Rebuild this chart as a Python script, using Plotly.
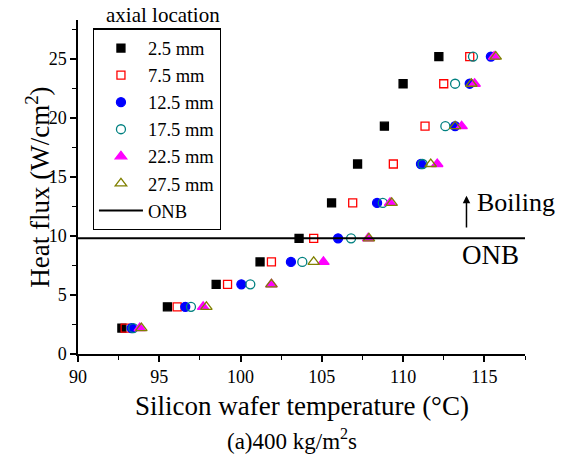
import plotly.graph_objects as go

# ---- data ----
heat_flux = [2.2, 4.0, 5.9, 7.8, 9.8, 12.8, 16.1, 19.3, 22.9, 25.2]
series_names = ["2.5 mm", "7.5 mm", "12.5 mm", "17.5 mm", "22.5 mm", "27.5 mm"]
t_2_5 = [92.7, 95.5, 98.5, 101.2, 103.6, 105.6, 107.2, 108.85, 110.0, 112.2]
t_7_5 = [92.9, 96.1, 99.2, 101.9, 104.5, 106.9, 109.4, 111.35, 112.5, 114.1]
t_12_5 = [93.3, 96.6, 100.05, 103.1, 106.0, 108.4, 111.1, 113.2, 114.1, 115.4]
t_17_5 = [93.4, 96.95, 100.6, 103.8, 106.8, 108.75, 111.2, 112.6, 113.2, 114.3]
t_22_5 = [93.8, 97.7, 101.9, 105.1, 107.85, 109.2, 112.1, 113.6, 114.4, 115.6]
t_27_5 = [93.9, 97.9, 101.9, 104.5, 107.9, 109.3, 111.7, 113.2, 114.2, 115.7]
onb_flux = 9.8
x_range = [90, 117.5]
y_range = [0, 28.3]

temps = [t_2_5, t_7_5, t_12_5, t_17_5, t_22_5, t_27_5]
symbols = ["square", "square-open", "circle", "circle-open", "triangle-up", "triangle-up-open"]
colors = ["#000000", "#ff0000", "#0000ff", "#008080", "#ff00ff", "#808000"]
sizes = [8, 8, 9, 9, 10, 10]

FONT = "Liberation Serif, Times New Roman, serif"

fig = go.Figure()
for name, xs, sym, col, sz in zip(series_names, temps, symbols, colors, sizes):
    fig.add_trace(go.Scatter(
        x=xs, y=heat_flux, mode="markers", name=name,
        marker=dict(symbol=sym, color=col, size=sz, line=dict(color=col, width=1.3)),
        cliponaxis=False,
    ))

fig.add_trace(go.Scatter(
    x=x_range, y=[onb_flux, onb_flux], mode="lines", name="ONB",
    line=dict(color="black", width=2),
))

axis_common = dict(
    showline=True, linecolor="black", linewidth=1.5,
    ticks="outside", ticklen=6, tickwidth=1.5, tickcolor="black",
    showgrid=False, zeroline=False,
    tickfont=dict(family=FONT, size=18, color="black"),
    minor=dict(ticks="outside", ticklen=4, tickwidth=1.2, tickcolor="black", dtick=2.5),
    mirror=False,
)

fig.update_xaxes(range=x_range, dtick=5, tick0=90, **axis_common)
fig.update_yaxes(range=y_range, dtick=5, tick0=0, **axis_common)

annotations = [
    dict(text="Silicon wafer temperature (°C)", xref="paper", yref="paper",
         x=0.5, y=-0.155, xanchor="center", yanchor="middle", showarrow=False,
         font=dict(family=FONT, size=27, color="black")),
    dict(text="(a)400 kg/m<sup>2</sup>s", xref="paper", yref="paper",
         x=0.478, y=-0.255, xanchor="center", yanchor="middle", showarrow=False,
         font=dict(family=FONT, size=23, color="black")),
    dict(text="Heat flux (W/cm<sup>2</sup>)", xref="paper", yref="paper",
         x=-0.09, y=0.5, xanchor="center", yanchor="middle", showarrow=False,
         textangle=-90, font=dict(family=FONT, size=27, color="black")),
    dict(text="axial location", xref="paper", yref="paper",
         x=0.19, y=1.015, xanchor="center", yanchor="middle", showarrow=False,
         font=dict(family=FONT, size=21, color="black")),
    dict(text="Boiling", xref="x", yref="y", x=114.4, y=12.8,
         xanchor="left", yanchor="middle", showarrow=False,
         font=dict(family=FONT, size=26, color="black")),
    dict(text="ONB", xref="x", yref="y", x=115.35, y=8.4,
         xanchor="center", yanchor="middle", showarrow=False,
         font=dict(family=FONT, size=27, color="black")),
    dict(text="", xref="x", yref="y", axref="x", ayref="y",
         x=113.9, y=13.4, ax=113.9, ay=10.6,
         showarrow=True, arrowhead=2, arrowsize=1, arrowwidth=1.5, arrowcolor="black"),
]

fig.update_layout(
    width=566, height=461,
    margin=dict(l=78, r=41, t=20, b=107),
    paper_bgcolor="white", plot_bgcolor="white",
    font=dict(family=FONT, color="black"),
    showlegend=True,
    legend=dict(
        x=0.033, y=0.975, xanchor="left", yanchor="top",
        bgcolor="white", bordercolor="black", borderwidth=1.2,
        font=dict(family=FONT, size=18.5, color="black"),
        itemwidth=44, tracegroupgap=0,
    ),
    annotations=annotations,
)

fig.write_html("out.html", config={"displayModeBar": False},
               post_script="document.body.style.margin='0';document.body.style.padding='0';")
